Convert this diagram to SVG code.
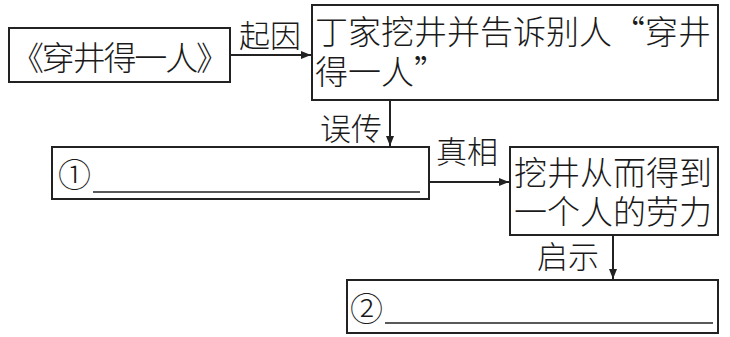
<svg xmlns="http://www.w3.org/2000/svg" width="730" height="337" viewBox="0 0 730 337">
<style>
.box{fill:#fff;stroke:#222;stroke-width:2}
.t{font-family:"Noto Sans CJK SC","Noto Sans",sans-serif;fill:#1a1a1a;font-size:33px;font-weight:300}
.lbl{font-family:"Noto Sans CJK SC","Noto Sans",sans-serif;fill:#1a1a1a;font-size:31px;font-weight:300}
.ln{stroke:#222;stroke-width:2;fill:none}
.ul{stroke:#222;stroke-width:1.5}
</style>
<defs>
<marker id="ah" viewBox="0 0 10 10" refX="10" refY="5" markerWidth="10" markerHeight="10" markerUnits="userSpaceOnUse" orient="auto">
<path d="M0,1 L10,5 L0,9 Z" fill="#222"/>
</marker>
</defs>
<rect width="730" height="337" fill="#fff"/>
<g id="connectors">
<line class="ln" x1="230" y1="55" x2="311" y2="55" marker-end="url(#ah)"/>
<text class="lbl" x="239" y="47">起因</text>
<line class="ln" x1="390" y1="100" x2="390" y2="146" marker-end="url(#ah)"/>
<text class="lbl" x="320" y="140">误传</text>
<line class="ln" x1="429" y1="182" x2="509" y2="182" marker-end="url(#ah)"/>
<text class="lbl" x="436" y="163">真相</text>
<line class="ln" x1="613" y1="235" x2="613" y2="279" marker-end="url(#ah)"/>
<text class="lbl" x="537" y="268">启示</text>
</g>
<g id="n1">
<rect class="box" x="9" y="28" width="221" height="54"/>
<text class="t" x="11" y="70" textLength="218" lengthAdjust="spacing">《穿井得一人》</text>
</g>
<g id="n2">
<rect class="box" x="312" y="5" width="406" height="95"/>
<text class="t" x="315" y="44"><tspan x="315" y="44">丁家挖井并告诉别人“穿井</tspan><tspan x="315" y="84">得一人”</tspan></text>
</g>
<g id="n3">
<rect class="box" x="52" y="147" width="377" height="52"/>
<text class="t" x="58" y="187" font-size="35">①</text>
<line class="ul" x1="93" y1="192" x2="420" y2="192"/>
</g>
<g id="n4">
<rect class="box" x="510" y="147" width="208" height="88"/>
<text class="t" x="514" y="185"><tspan x="514" y="185">挖井从而得到</tspan><tspan x="514" y="224">一个人的劳力</tspan></text>
</g>
<g id="n5">
<rect class="box" x="347" y="280" width="371" height="53"/>
<text class="t" x="350" y="321" font-size="35">②</text>
<line class="ul" x1="385" y1="323" x2="713" y2="323"/>
</g>
</svg>
